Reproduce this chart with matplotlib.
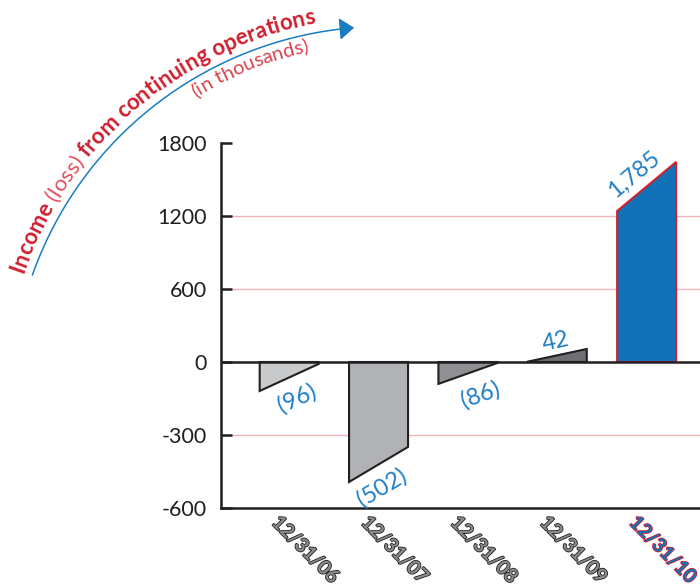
import numpy as np
import matplotlib.pyplot as plt
import matplotlib.patheffects as pe
from matplotlib.font_manager import FontProperties
from matplotlib.patches import FancyArrowPatch
from matplotlib.path import Path

plt.rcParams['font.family'] = ['Lato', 'DejaVu Sans']

# ---- data ----
dates = ['12/31/06', '12/31/07', '12/31/08', '12/31/09', '12/31/10']
values = [-96, -502, -86, 42, 1785]
value_labels = ['(96)', '(502)', '(86)', '42', '1,785']
# slanted bar tops: height at left and right edge
left_edge = [-119, -493, -90, 3, 1241]
right_edge = [-8, -349, -4, 107, 1644]
yticks = [-600, -300, 0, 600, 1200, 1800]
grid_levels = [-300, 600, 1200]

# ---- styles ----
DARK = '#231f20'
RED = '#d01f2f'
BLUE = '#1272b8'
LBLUE = '#1f7ec6'
PINK = '#f4b3ba'
bar_fc = ['#c9cacc', '#b1b2b5', '#8f9093', '#6e6f72', BLUE]
bar_ec = [DARK, DARK, DARK, DARK, RED]
label_off = [(8, -21), (3, -23), (13, -21), (-2, 14), (-13, 12)]

W, H = 700, 586
fig = plt.figure(figsize=(W / 100, H / 100), dpi=100)
ax = fig.add_axes([221 / W, 78 / H, 515 / W, 365 / H])


# axis is stretched below zero (300 per step) vs above (600 per step)
def fwd(y):
    y = np.asarray(y, dtype=float)
    return np.where(y < 0, 2 * y, y)


def inv(y):
    y = np.asarray(y, dtype=float)
    return np.where(y < 0, y / 2, y)


ax.set_yscale('function', functions=(fwd, inv))
ax.set_xlim(-0.763, 5.0)
ax.set_ylim(-600, 1800)

for s in ['top', 'right']:
    ax.spines[s].set_visible(False)
for s in ['left', 'bottom']:
    ax.spines[s].set_linewidth(1.8)
    ax.spines[s].set_color(DARK)

ax.set_xticks([])
ax.set_yticks(yticks)
ax.set_yticklabels([str(t) for t in yticks])
ax.tick_params(axis='y', direction='in', length=8, width=1.8, color=DARK,
               pad=10, labelsize=15.5, labelcolor=DARK)

for g in grid_levels:
    ax.axhline(g, color=PINK, lw=1.0, zorder=1)
ax.axhline(0, color=DARK, lw=1.8, zorder=4)

bw = 0.33
for i in range(len(dates)):
    x0, x1 = i - bw, i + bw
    ax.fill([x0, x0, x1, x1], [0, left_edge[i], right_edge[i], 0],
            facecolor=bar_fc[i], edgecolor=bar_ec[i], lw=1.5, zorder=3,
            joinstyle='miter')

    # label follows the slope of the bar top
    p0 = ax.transData.transform((x0, left_edge[i]))
    p1 = ax.transData.transform((x1, right_edge[i]))
    ang = np.degrees(np.arctan2(p1[1] - p0[1], p1[0] - p0[0]))
    mid = (left_edge[i] + right_edge[i]) / 2
    ax.annotate(value_labels[i], xy=(i, mid), xytext=label_off[i],
                textcoords='offset pixels', ha='center', va='center',
                rotation=ang, rotation_mode='anchor', fontsize=17,
                color=LBLUE, annotation_clip=False)

    last = i == len(dates) - 1
    ax.annotate(dates[i], xy=(i, 0), xycoords=('data', 'axes fraction'),
                xytext=(16, -42), textcoords='offset pixels', rotation=-45,
                ha='center', va='center', fontsize=14, fontweight='bold',
                color=BLUE if last else '#8a8b8d',
                path_effects=[pe.withStroke(linewidth=1.2,
                                            foreground=RED if last else DARK)],
                annotation_clip=False)

# ---- curved title with arrow ----
cx, cy = 384, 186.5
arc_r = 373
th = np.radians(np.linspace(160.5, 94.6, 80))
arc = Path(np.column_stack([(cx + arc_r * np.cos(th)) / W,
                            (cy + arc_r * np.sin(th)) / H]))
fig.add_artist(FancyArrowPatch(path=arc, transform=fig.transFigure,
                               arrowstyle='-|>,head_length=0.6,head_width=0.45',
                               mutation_scale=15, color='#1a7cc1', lw=1.1))

renderer = fig.canvas.get_renderer()


def adv(ch, prop):
    w1 = renderer.get_text_width_height_descent('|' + ch + '|', prop, ismath=False)[0]
    w0 = renderer.get_text_width_height_descent('||', prop, ismath=False)[0]
    return w1 - w0


def arc_text(parts, r, theta0):
    s = 0.0
    t0 = np.radians(theta0)
    for txt, prop, col in parts:
        for ch in txt:
            w = adv(ch, prop)
            t = t0 - (s + w / 2) / r
            fig.text((cx + r * np.cos(t)) / W, (cy + r * np.sin(t)) / H, ch,
                     rotation=np.degrees(t) - 90, rotation_mode='anchor',
                     ha='center', va='baseline', fontproperties=prop, color=col)
            s += w


bold = FontProperties(family=['Lato', 'DejaVu Sans'], weight='bold', size=16)
light = FontProperties(family=['Lato', 'DejaVu Sans'], weight='normal', size=16)
sub = FontProperties(family=['Lato', 'DejaVu Sans'], weight='normal', size=14.5)

arc_text([('Income ', bold, RED), ('(loss) ', light, '#e0505c'),
          ('from continuing operations', bold, RED)], 382, 160.8)
arc_text([('(in thousands)', sub, '#d9434e')], 356, 121.9)

fig.savefig('out.png', dpi=100)
